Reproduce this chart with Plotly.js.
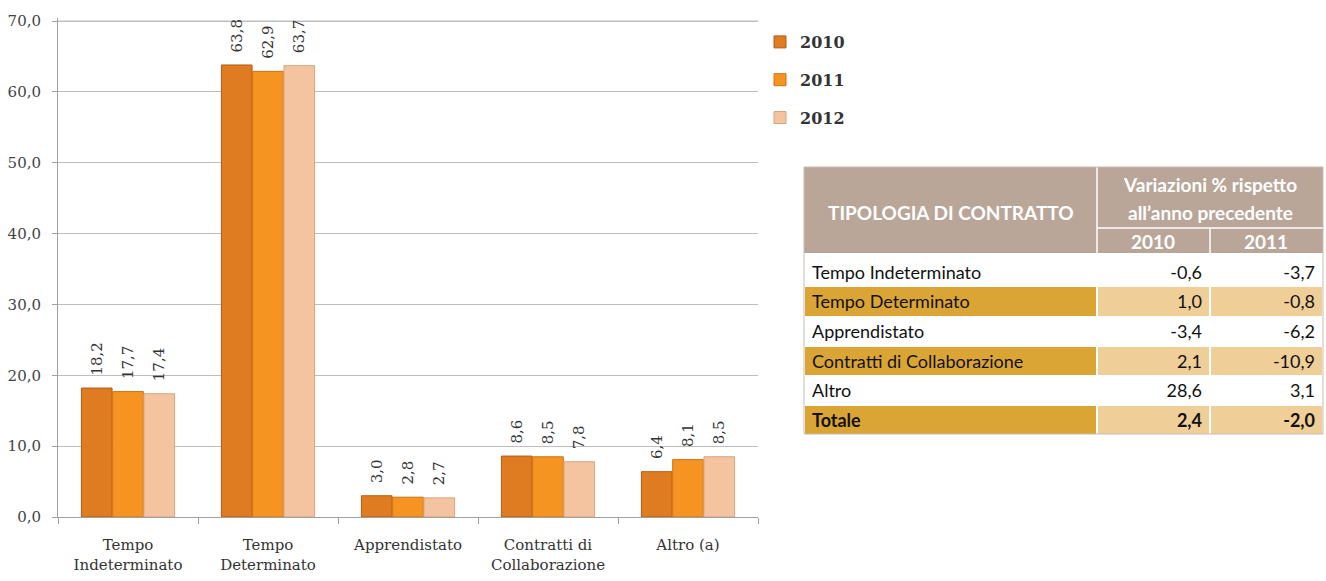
<!DOCTYPE html>
<html>
<head>
<meta charset="utf-8">
<script src="https://cdn.plot.ly/plotly-3.0.1.min.js"></script>
<style>
  body { margin: 0; background: #fff; }
  #chartDiv { width: 1326px; height: 581px; }
</style>
</head>
<body>
<div id="chartDiv"></div>
<script>
// chart data
var categories = ['Tempo<br>Indeterminato', 'Tempo<br>Determinato', 'Apprendistato', 'Contratti di<br>Collaborazione', 'Altro (a)'];
var years = ['2010', '2011', '2012'];
var values2010 = [18.2, 63.8, 3.0, 8.6, 6.4];
var values2011 = [17.7, 62.9, 2.8, 8.5, 8.1];
var values2012 = [17.4, 63.7, 2.7, 7.8, 8.5];
var yTicks = [0, 10, 20, 30, 40, 50, 60, 70];

// table data
var tableRows = ['Tempo Indeterminato', 'Tempo Determinato', 'Apprendistato', 'Contratti di Collaborazione', 'Altro', 'Totale'];
var var2010 = [-0.6, 1.0, -3.4, 2.1, 28.6, 2.4];
var var2011 = [-3.7, -0.8, -6.2, -10.9, 3.1, -2.0];
var tableHeaderMain = 'TIPOLOGIA DI CONTRATTO';
var tableHeaderVar = ['Variazioni % rispetto', 'all\u2019anno precedente'];
var tableHeaderYears = ['2010', '2011'];

var W = 1326, H = 581;
function px(x) { return x / W; } // pixel -> paper x
function py(y) { return 1 - y / H; } // pixel -> paper y

var barColors = ['#DF7B20', '#F69421', '#F4C3A0'];
var lineColors = ['#B55D12', '#CE7413', '#D9A47E'];
var series = [values2010, values2011, values2012];

var data = [];
for (var i = 0; i < series.length; i++) {
    data.push({
        type: 'bar',
        x: categories,
        y: series[i],
        name: years[i],
        legendgroup: years[i],
        marker: { color: barColors[i], line: { color: lineColors[i], width: 1 } },
        texttemplate: '\u00a0\u00a0%{y:.1f}', // nbsp keeps the label off the bar top
        textposition: 'outside',
        textangle: -90,
        constraintext: 'none',
        textfont: { family: 'DejaVu Serif', size: 15, color: '#333' },
        cliponaxis: false,
        hoverinfo: 'skip'
    });
}

// body of the table
function fmt(v) { return v.toFixed(1).replace('.', ','); }
var col1 = [], col2 = [], col3 = [], weights = [];
for (var r = 0; r < tableRows.length; r++) {
    col1.push(tableRows[r]);
    col2.push(fmt(var2010[r]));
    col3.push(fmt(var2011[r]));
    weights.push(r == tableRows.length - 1 ? 'bold' : 'normal'); // Totale in bold
}
var fillFirst = [], fillOther = [];
for (var r = 0; r < tableRows.length; r++) {
    fillFirst.push(r % 2 == 1 ? '#DBA535' : '#FFFFFF');
    fillOther.push(r % 2 == 1 ? '#EFCE97' : '#FFFFFF');
}
data.push({
    type: 'table',
    domain: { x: [px(804), px(1323)], y: [py(470), py(241)] },
    columnwidth: [293, 113, 113],
    header: { values: [], height: 0, line: { width: 0 }, fill: { color: 'rgba(0,0,0,0)' } },
    cells: {
        values: [col1, col2, col3],
        height: 29.7,
        align: ['left', 'right', 'right'],
        fill: { color: [fillFirst, fillOther, fillOther] },
        line: { color: '#FFFFFF', width: 1.5 },
        font: { family: 'Lato', size: 18, color: '#111', weight: [weights, weights, weights] }
    },
    hoverinfo: 'skip'
});

// table header as shapes + text
var hdr = '#B9A698';
var shapes = [
    { type: 'rect', xref: 'paper', yref: 'paper', x0: px(804), x1: px(1323), y0: py(253), y1: py(167), fillcolor: hdr, line: { width: 0 }, layer: 'above' },
    { type: 'line', xref: 'paper', yref: 'paper', x0: px(1097), x1: px(1097), y0: py(253), y1: py(167), line: { color: '#fff', width: 1.5 }, layer: 'above' },
    { type: 'line', xref: 'paper', yref: 'paper', x0: px(1097), x1: px(1323), y0: py(228), y1: py(228), line: { color: '#fff', width: 1.5 }, layer: 'above' },
    { type: 'line', xref: 'paper', yref: 'paper', x0: px(1210), x1: px(1210), y0: py(253), y1: py(228), line: { color: '#fff', width: 1.5 }, layer: 'above' },
    { type: 'rect', xref: 'paper', yref: 'paper', x0: px(804), x1: px(1323), y0: py(434), y1: py(167), line: { color: '#C9BBB1', width: 1 }, layer: 'above' },
    // top gridline (at the last tick) drawn explicitly so it is never dropped at the edge
    { type: 'line', xref: 'x domain', yref: 'y', x0: 0, x1: 1, y0: yTicks[yTicks.length - 1], y1: yTicks[yTicks.length - 1], line: { color: '#BDBDBD', width: 1 }, layer: 'below' }
];
var hfont = { family: 'Lato', size: 19, color: '#fff' };
function hdrText(x, y, t) {
    return { xref: 'paper', yref: 'paper', x: px(x), y: py(y), xanchor: 'center', yanchor: 'middle',
             text: '<b>' + t + '</b>', showarrow: false, font: hfont };
}
var annotations = [
    hdrText(951, 213, tableHeaderMain),
    hdrText(1210, 185, tableHeaderVar[0]),
    hdrText(1210, 212, tableHeaderVar[1]),
    hdrText(1153, 241, tableHeaderYears[0]),
    hdrText(1266, 241, tableHeaderYears[1])
];

var layout = {
    width: W,
    height: H,
    margin: { l: 0, r: 0, t: 0, b: 0 },
    paper_bgcolor: '#fff',
    plot_bgcolor: '#fff',
    separators: ',.',
    barmode: 'group',
    bargap: 0.33,
    bargroupgap: 0.02,
    showlegend: true,
    legend: {
        x: px(760), y: py(25), xanchor: 'left', yanchor: 'top',
        font: { family: 'DejaVu Serif', size: 16, color: '#333', weight: 'bold' },
        tracegroupgap: 14,
        itemwidth: 30,
        bgcolor: 'rgba(0,0,0,0)'
    },
    xaxis: {
        domain: [px(58), px(758)],
        type: 'category',
        showline: true, linecolor: '#A0A0A0', linewidth: 1,
        ticks: 'outside', tickson: 'boundaries', ticklen: 6, tickcolor: '#A0A0A0',
        ticklabelstandoff: 14,
        showgrid: false,
        tickfont: { family: 'DejaVu Serif', size: 15, color: '#333' }
    },
    yaxis: {
        domain: [py(517), py(17.5)],
        range: [0, 70.5],
        tickvals: yTicks,
        tickformat: '.1f',
        showline: true, linecolor: '#A0A0A0', linewidth: 1,
        ticks: 'outside', ticklen: 5, tickcolor: '#A0A0A0',
        ticklabelstandoff: 8,
        gridcolor: '#BDBDBD', gridwidth: 1,
        zeroline: false,
        tickfont: { family: 'DejaVu Serif', size: 15, color: '#444' }
    },
    shapes: shapes,
    annotations: annotations
};

Plotly.newPlot('chartDiv', data, layout, { displayModeBar: false, staticPlot: true });
</script>
</body>
</html>
